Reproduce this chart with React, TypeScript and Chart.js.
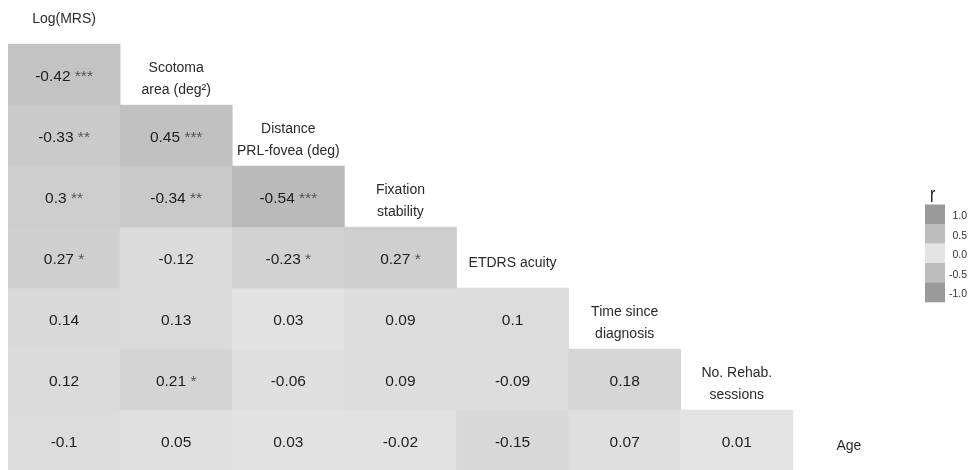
import React, { useEffect, useRef } from "react";
import { Chart, registerables } from "chart.js";

Chart.register(...registerables);

// Variable names (diagonal labels), "\n" marks a line break
const variables: string[] = [
  "Log(MRS)",
  "Scotoma\narea (deg²)",
  "Distance\nPRL-fovea (deg)",
  "Fixation\nstability",
  "ETDRS acuity",
  "Time since\ndiagnosis",
  "No. Rehab.\nsessions",
  "Age",
];

// Lower-triangle correlation rows (row i = variable i, columns 0..i-1)
const rowScotoma: number[] = [-0.42];
const rowDistance: number[] = [-0.33, 0.45];
const rowFixation: number[] = [0.3, -0.34, -0.54];
const rowEtdrs: number[] = [0.27, -0.12, -0.23, 0.27];
const rowTime: number[] = [0.14, 0.13, 0.03, 0.09, 0.1];
const rowRehab: number[] = [0.12, 0.21, -0.06, 0.09, -0.09, 0.18];
const rowAge: number[] = [-0.1, 0.05, 0.03, -0.02, -0.15, 0.07, 0.01];

// Significance stars
const starsScotoma: string[] = ["***"];
const starsDistance: string[] = ["**", "***"];
const starsFixation: string[] = ["**", "**", "***"];
const starsEtdrs: string[] = ["*", "", "*", "*"];
const starsTime: string[] = ["", "", "", "", ""];
const starsRehab: string[] = ["", "*", "", "", "", ""];
const starsAge: string[] = ["", "", "", "", "", "", ""];

const rRows: number[][] = [rowScotoma, rowDistance, rowFixation, rowEtdrs, rowTime, rowRehab, rowAge];
const starRows: string[][] = [starsScotoma, starsDistance, starsFixation, starsEtdrs, starsTime, starsRehab, starsAge];

// Legend
const legendValues: number[] = [1.0, 0.5, 0.0, -0.5, -1.0];
const legendLabels: string[] = ["1.0", "0.5", "0.0", "-0.5", "-1.0"];

const FONT = '"Liberation Sans", Arial, sans-serif';

function colorFor(r: number): string {
  const a = Math.min(1, Math.abs(r));
  const g = a <= 0.5 ? 228 - (228 - 189) * (a / 0.5) : 189 - (189 - 154) * ((a - 0.5) / 0.5);
  const v = Math.round(g);
  return `rgb(${v},${v},${v})`;
}

const textPlugin = {
  id: "corrText",
  afterDatasetsDraw(chart: any) {
    const ctx = chart.ctx as CanvasRenderingContext2D;
    const xs = chart.scales.x;
    const ys = chart.scales.y;
    ctx.save();
    // cell values
    rRows.forEach((row, d) => {
      const meta = chart.getDatasetMeta(d);
      row.forEach((r, j) => {
        const el = meta.data[j];
        if (!el) return;
        const cx = el.x;
        const cy = (el.y + el.base) / 2;
        const num = String(r);
        const stars = starRows[d][j];
        ctx.font = `15.5px ${FONT}`;
        ctx.textBaseline = "alphabetic";
        ctx.textAlign = "left";
        const numW = ctx.measureText(num).width;
        const spW = stars ? ctx.measureText(" ").width : 0;
        const stW = stars ? ctx.measureText(stars).width : 0;
        const start = cx - (numW + spW + stW) / 2;
        ctx.fillStyle = "#1e1e1e";
        ctx.fillText(num, start, cy + 6);
        if (stars) {
          ctx.fillStyle = "#555555";
          ctx.fillText(stars, start + numW + spW, cy + 6);
        }
      });
    });
    // diagonal labels
    ctx.font = `14px ${FONT}`;
    ctx.textAlign = "center";
    ctx.fillStyle = "#2a2a2a";
    variables.forEach((label, k) => {
      const cx = xs.getPixelForValue(k);
      const cy = ys.getPixelForValue(k);
      const lines = label.split("\n");
      if (lines.length === 1) {
        ctx.fillText(lines[0], cx, cy + 9);
      } else {
        ctx.fillText(lines[0], cx, cy - 2.5);
        ctx.fillText(lines[1], cx, cy + 19);
      }
    });
    // legend
    const bx = 925;
    const bw = 20;
    const by = 204.5;
    const bh = 19.5;
    legendValues.forEach((v, i) => {
      ctx.fillStyle = colorFor(v);
      ctx.fillRect(bx, by + i * bh, bw, bh + 0.3);
    });
    ctx.font = `10.5px ${FONT}`;
    ctx.textAlign = "right";
    ctx.fillStyle = "#333333";
    legendLabels.forEach((t, i) => {
      ctx.fillText(t, 967, by + i * bh + bh / 2 + 5);
    });
    ctx.save();
    ctx.translate(930, 201.7);
    ctx.scale(1, 1.4);
    ctx.font = `16px ${FONT}`;
    ctx.textAlign = "left";
    ctx.fillStyle = "#222222";
    ctx.fillText("r", 0, 0);
    ctx.restore();
    ctx.restore();
  },
};

export default function App() {
  const ref = useRef<HTMLCanvasElement | null>(null);
  useEffect(() => {
    if (!ref.current) return;
    const datasets = rRows.map((row, d) => {
      const i = d + 1;
      return {
        label: variables[i],
        data: variables.map((_, j) => (j < row.length ? [i - 0.5, i + 0.5] : null)),
        backgroundColor: variables.map((_, j) => (j < row.length ? colorFor(row[j]) : "rgba(0,0,0,0)")),
        borderWidth: 0,
        barPercentage: 1,
        categoryPercentage: 1,
        grouped: false,
      };
    });
    const chart = new Chart(ref.current, {
      type: "bar",
      data: { labels: variables, datasets: datasets as any },
      options: {
        animation: false,
        responsive: false,
        devicePixelRatio: 1,
        layout: { padding: { left: 8, right: 63, top: 0, bottom: 0 } },
        plugins: { legend: { display: false }, tooltip: { enabled: false } },
        scales: {
          x: { type: "category", display: false, offset: true, grid: { display: false } },
          y: {
            type: "linear",
            display: false,
            reverse: true,
            min: -13.5 / 61,
            max: -13.5 / 61 + 470 / 61,
          },
        },
      },
      plugins: [textPlugin],
    });
    return () => chart.destroy();
  }, []);
  return (
    <div style={{ position: "fixed", left: 0, top: 0, width: 968, height: 470, background: "#fff" }}>
      <canvas ref={ref} width={968} height={470} />
    </div>
  );
}
